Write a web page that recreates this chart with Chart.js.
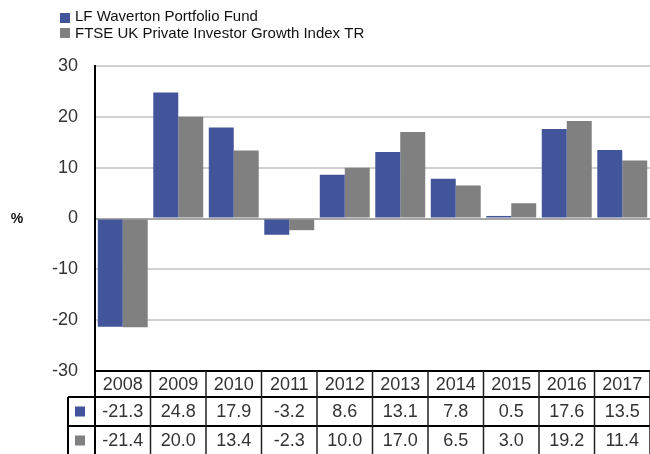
<!DOCTYPE html>
<html>
<head>
<meta charset="utf-8">
<script src="https://cdn.jsdelivr.net/npm/chart.js@4"></script>
<style>
  html, body { margin: 0; padding: 0; background: #fff; }
  #wrap { width: 650px; height: 454px; position: relative; }
</style>
</head>
<body>
<div id="wrap"><canvas id="chart"></canvas></div>
<script>
const years = ["2008", "2009", "2010", "2011", "2012", "2013", "2014", "2015", "2016", "2017"]
const fundName = "LF Waverton Portfolio Fund"
const indexName = "FTSE UK Private Investor Growth Index TR"
const fundValues = [-21.3, 24.8, 17.9, -3.2, 8.6, 13.1, 7.8, 0.5, 17.6, 13.5]
const indexValues = [-21.4, 20.0, 13.4, -2.3, 10.0, 17.0, 6.5, 3.0, 19.2, 11.4]
const fundColor = "#42559a"
const indexColor = "#808080"

const font = "'Liberation Sans', Arial, sans-serif"

// legend, % label and the data table under the plot
const extras = {
  id: "extras",
  afterDraw(chart) {
    const ctx = chart.ctx
    const x = chart.scales.x
    const area = chart.chartArea
    ctx.save()

    // legend
    ctx.font = "15px " + font
    ctx.textBaseline = "middle"
    ctx.textAlign = "left"
    ctx.fillStyle = fundColor
    ctx.fillRect(60, 13, 10, 10)
    ctx.fillStyle = indexColor
    ctx.fillRect(60, 28, 10, 10)
    ctx.fillStyle = "#111"
    ctx.fillText(fundName, 75, 17)
    ctx.fillText(indexName, 75, 34)

    // % label
    ctx.font = "bold 14px " + font
    ctx.textAlign = "center"
    ctx.fillText("%", 17, 219)

    // table
    const half = (x.getPixelForValue(1) - x.getPixelForValue(0)) / 2
    const top = area.bottom
    const r1 = top + 26
    const r2 = r1 + 29
    const r3 = r2 + 29
    ctx.strokeStyle = "#000"
    ctx.lineWidth = 2
    ctx.beginPath()
    ctx.moveTo(area.left, top); ctx.lineTo(area.right, top)
    ctx.moveTo(68, r1); ctx.lineTo(area.right, r1)
    ctx.moveTo(68, r2); ctx.lineTo(area.right, r2)
    ctx.moveTo(68, r1); ctx.lineTo(68, r3 + 5)
    ctx.moveTo(area.left, top); ctx.lineTo(area.left, r3 + 5)
    ctx.stroke()
    ctx.strokeStyle = "#222"
    ctx.lineWidth = 1.5
    ctx.beginPath()
    years.forEach((y, i) => {
      const right = x.getPixelForValue(i) + half
      ctx.moveTo(right, top); ctx.lineTo(right, r3 + 5)
    })
    ctx.stroke()

    ctx.fillStyle = fundColor
    ctx.fillRect(75, (r1 + r2) / 2 - 5, 10, 10)
    ctx.fillStyle = indexColor
    ctx.fillRect(75, (r2 + r3) / 2 - 5, 10, 10)

    ctx.font = "18px " + font
    ctx.fillStyle = "#333"
    ctx.textAlign = "center"
    years.forEach((y, i) => {
      const cx = x.getPixelForValue(i)
      ctx.fillText(y, cx, (top + r1) / 2 + 1)
      ctx.fillText(fundValues[i].toFixed(1), cx, (r1 + r2) / 2 + 1)
      ctx.fillText(indexValues[i].toFixed(1), cx, (r2 + r3) / 2 + 1)
    })
    ctx.restore()
  }
}

new Chart(document.getElementById("chart"), {
  type: "bar",
  data: {
    labels: years,
    datasets: [
      { label: fundName, data: fundValues, backgroundColor: fundColor },
      { label: indexName, data: indexValues, backgroundColor: indexColor },
    ],
  },
  options: {
    responsive: true,
    maintainAspectRatio: false,
    animation: false,
    layout: { padding: { top: 66, bottom: 83, left: 0, right: 0 } },
    datasets: { bar: { categoryPercentage: 0.9, barPercentage: 1 } },
    plugins: {
      legend: { display: false },
      tooltip: { enabled: false },
    },
    scales: {
      x: { display: false },
      y: {
        min: -30,
        max: 30,
        afterFit: (scale) => { scale.width = 95 },
        ticks: {
          stepSize: 10,
          padding: 17,
          color: "#333",
          font: { family: font, size: 18 },
        },
        grid: {
          drawTicks: false,
          lineWidth: 2,
          color: (c) => c.tick && c.tick.value === 0 ? "#a6a6a6" : "#d0d0d0",
        },
        border: { color: "#000", width: 2 },
      },
    },
  },
  plugins: [extras],
})
</script>
</body>
</html>
